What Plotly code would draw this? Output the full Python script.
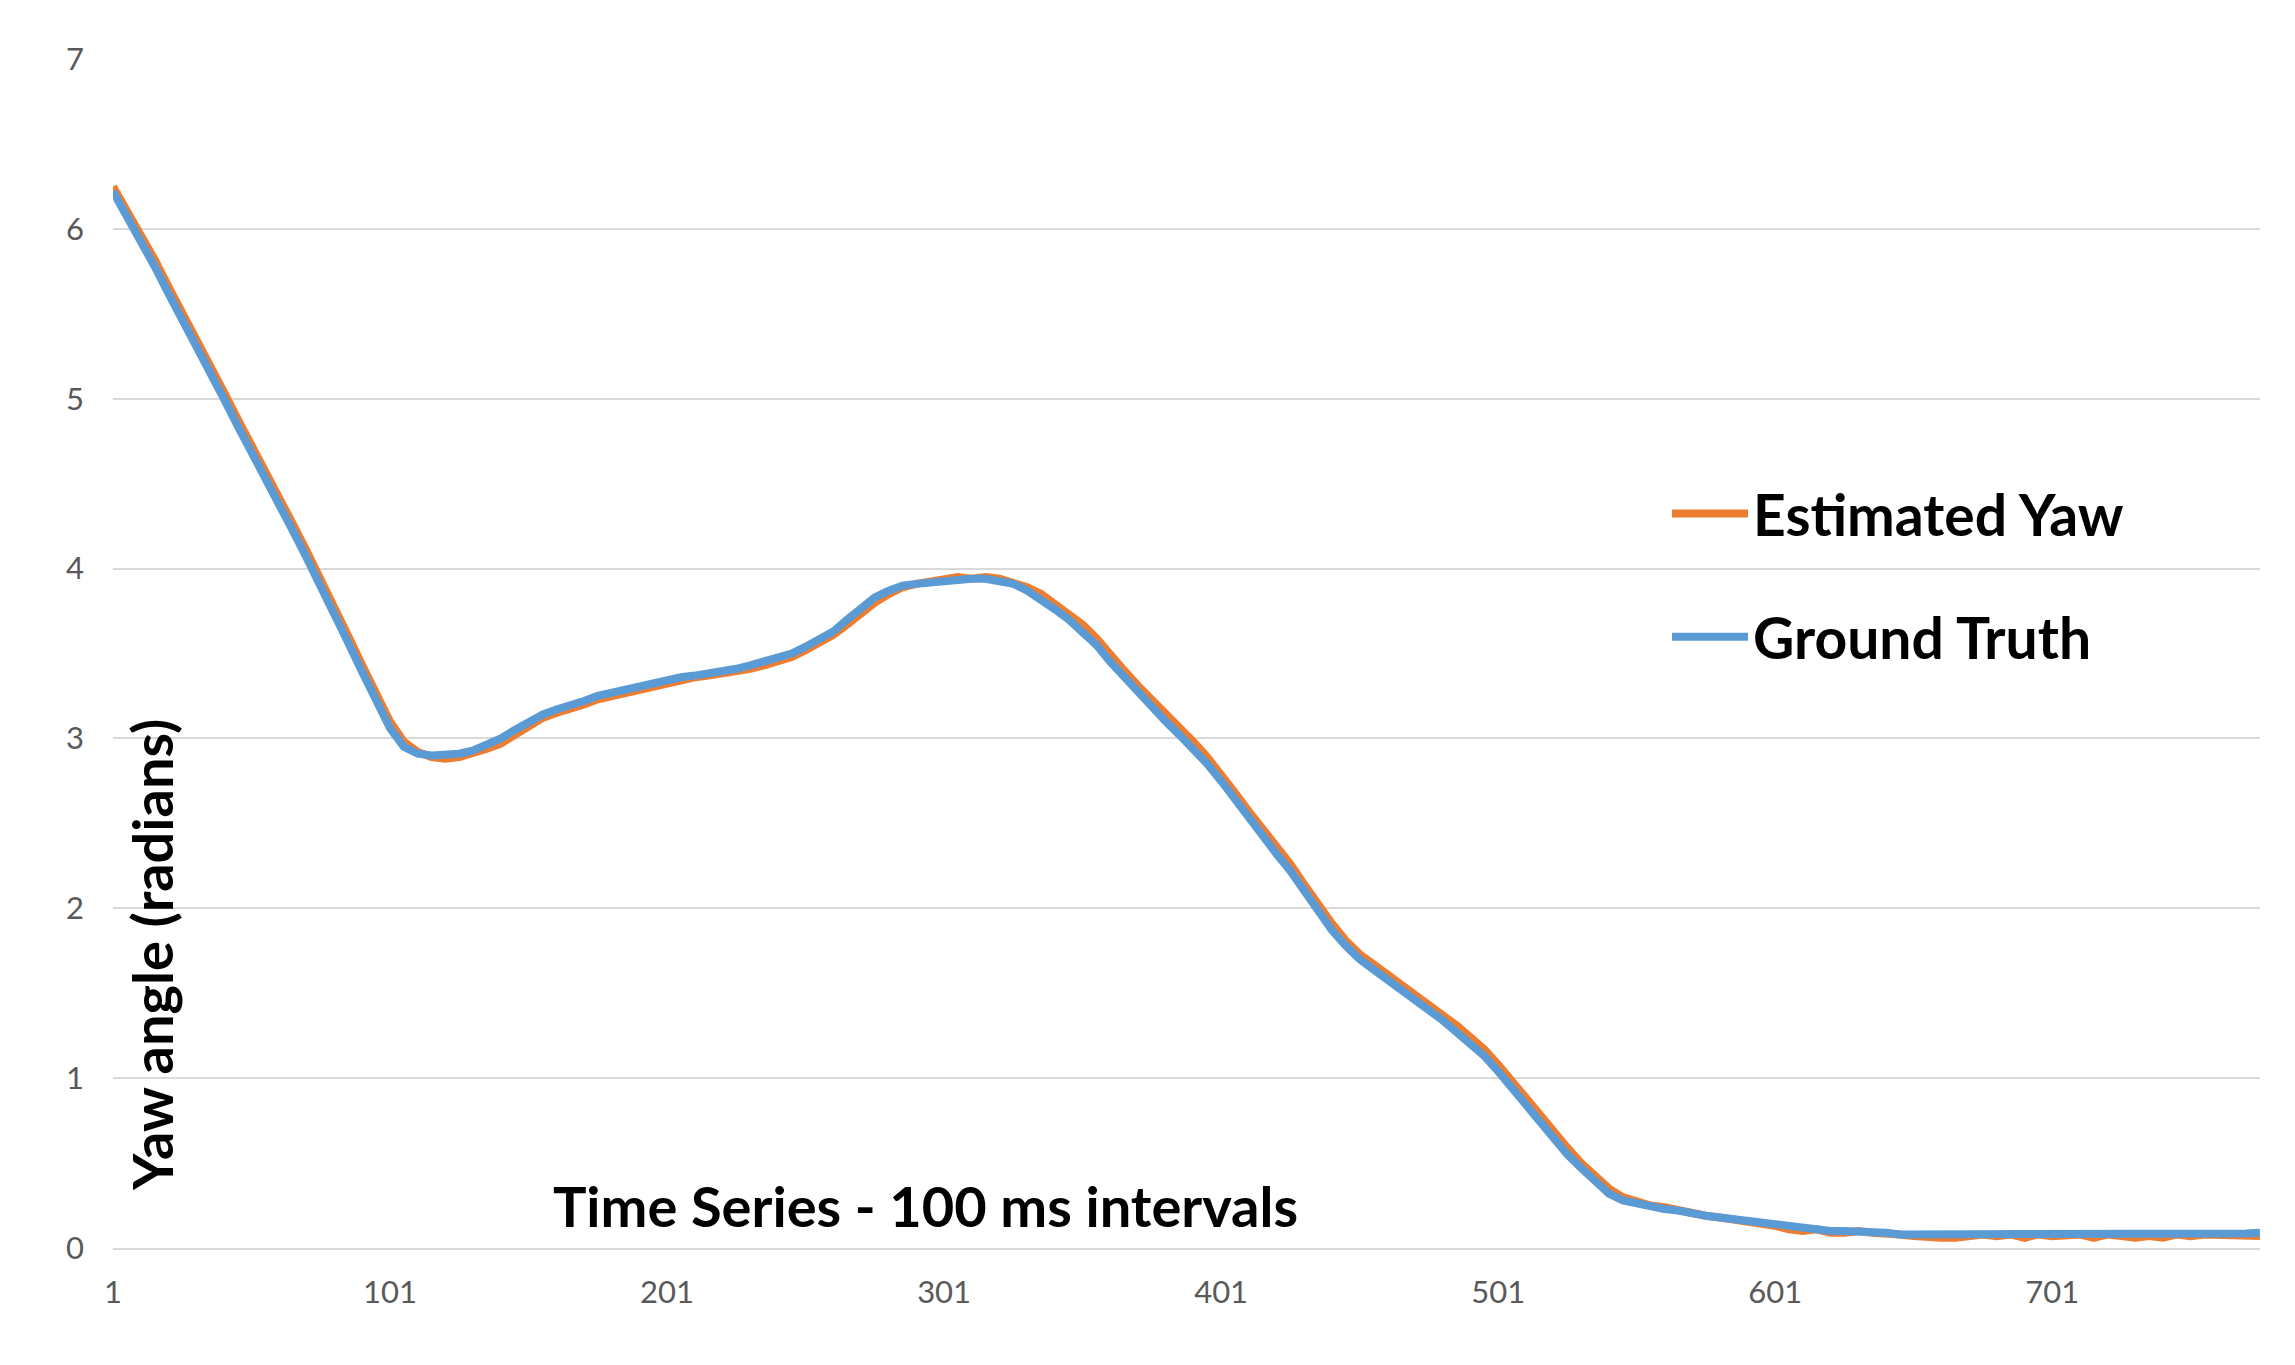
import plotly.graph_objects as go

# Sample index (category) positions: every 5th sample of 776
time_index = list(range(1, 777, 5))

ground_truth = [
    6.22, 6.08, 5.94, 5.78, 5.62, 5.47, 5.31, 5.16, 5.00, 4.84,
    4.69, 4.53, 4.38, 4.22, 4.06, 3.90, 3.73, 3.56, 3.39, 3.22,
    3.06, 2.95, 2.91, 2.90, 2.90, 2.91, 2.93, 2.96, 3.00, 3.05,
    3.10, 3.14, 3.17, 3.19, 3.22, 3.25, 3.27, 3.29, 3.31, 3.33,
    3.35, 3.36, 3.37, 3.38, 3.39, 3.41, 3.43, 3.45, 3.47, 3.50,
    3.54, 3.58, 3.63, 3.70, 3.77, 3.83, 3.87, 3.90, 3.91, 3.92,
    3.93, 3.94, 3.94, 3.94, 3.93, 3.91, 3.87, 3.82, 3.76, 3.70,
    3.63, 3.55, 3.45, 3.36, 3.27, 3.19, 3.10, 3.02, 2.94, 2.85,
    2.75, 2.64, 2.53, 2.43, 2.32, 2.22, 2.10, 1.98, 1.87, 1.78,
    1.70, 1.64, 1.58, 1.53, 1.47, 1.41, 1.34, 1.27, 1.20, 1.13,
    1.04, 0.94, 0.84, 0.74, 0.64, 0.55, 0.47, 0.39, 0.32, 0.28,
    0.26, 0.25, 0.23, 0.22, 0.20, 0.19, 0.18, 0.17, 0.16, 0.15,
    0.13, 0.12, 0.11, 0.11, 0.10, 0.10, 0.10, 0.10, 0.09, 0.08,
    0.08, 0.075, 0.075, 0.075, 0.075, 0.075, 0.075, 0.075, 0.075, 0.075,
    0.075, 0.075, 0.075, 0.075, 0.075, 0.075, 0.075, 0.075, 0.075, 0.075,
    0.075, 0.075, 0.075, 0.08, 0.085, 0.09,
]

estimated_yaw = [
    6.25, 6.11, 5.97, 5.82, 5.66, 5.51, 5.35, 5.20, 5.04, 4.88,
    4.73, 4.57, 4.42, 4.26, 4.10, 3.94, 3.77, 3.60, 3.43, 3.27,
    3.10, 2.98, 2.92, 2.89, 2.88, 2.89, 2.91, 2.94, 2.97, 3.02,
    3.08, 3.12, 3.15, 3.17, 3.20, 3.23, 3.25, 3.27, 3.29, 3.31,
    3.33, 3.35, 3.36, 3.37, 3.38, 3.39, 3.41, 3.43, 3.45, 3.48,
    3.52, 3.56, 3.61, 3.67, 3.74, 3.80, 3.85, 3.89, 3.91, 3.92,
    3.94, 3.95, 3.94, 3.95, 3.94, 3.92, 3.89, 3.85, 3.79, 3.73,
    3.67, 3.59, 3.49, 3.40, 3.31, 3.23, 3.14, 3.06, 2.98, 2.89,
    2.79, 2.68, 2.57, 2.47, 2.36, 2.26, 2.14, 2.02, 1.91, 1.81,
    1.73, 1.67, 1.61, 1.56, 1.50, 1.44, 1.37, 1.31, 1.24, 1.17,
    1.08, 0.98, 0.88, 0.78, 0.68, 0.59, 0.50, 0.42, 0.35, 0.30,
    0.27, 0.25, 0.24, 0.22, 0.21, 0.19, 0.18, 0.17, 0.16, 0.14,
    0.13, 0.11, 0.10, 0.11, 0.09, 0.09, 0.10, 0.09, 0.09, 0.08,
    0.07, 0.06, 0.06, 0.06, 0.07, 0.08, 0.07, 0.08, 0.06, 0.08,
    0.07, 0.08, 0.08, 0.06, 0.08, 0.07, 0.06, 0.07, 0.06, 0.08,
    0.07, 0.08, 0.08, 0.07, 0.08, 0.07,
]

x_tick_vals = [1, 101, 201, 301, 401, 501, 601, 701]
x_tick_text = ["1", "101", "201", "301", "401", "501", "601", "701"]
y_tick_vals = [0, 1, 2, 3, 4, 5, 6, 7]

series_names = ["Estimated Yaw", "Ground Truth"]
series_colors = ["#ED7D31", "#5B9BD5"]

assert len(time_index) == len(ground_truth) == len(estimated_yaw)

W, H = 2295, 1365
OFF = 8  # page body margin offset
# target plot area in screen pixels
PL, PR, PT, PB = 113, 2260, 59, 1248
ML = PL - OFF
MT = PT - OFF
MR = W - (PR - OFF)
MB = H - (PB - OFF)
plot_w = PR - PL
plot_h = PB - PT

def sx(px):
    return (px - PL) / plot_w

def sy(py):
    return (PB - py) / plot_h

fig = go.Figure()
fig.add_trace(go.Scatter(x=time_index, y=estimated_yaw, mode="lines",
                         name=series_names[0], legendgroup="a",
                         line=dict(color=series_colors[0], width=8)))
fig.add_trace(go.Scatter(x=time_index, y=ground_truth, mode="lines",
                         name=series_names[1], legendgroup="b",
                         line=dict(color=series_colors[1], width=8)))

bold_font = dict(family="Lato", size=56, color="#000000")

fig.add_annotation(text="<b>Yaw angle (radians)</b>", textangle=-90,
                   xref="paper", yref="paper",
                   x=sx(151), y=sy(955),
                   xanchor="center", yanchor="middle", showarrow=False,
                   font=bold_font)
fig.add_annotation(text="<b>Time Series - 100 ms intervals</b>",
                   xref="paper", yref="paper",
                   x=sx(925), y=sy(1205),
                   xanchor="center", yanchor="middle", showarrow=False,
                   font=bold_font)

fig.update_layout(
    width=W, height=H,
    margin=dict(l=ML, r=MR, t=MT, b=MB),
    paper_bgcolor="white", plot_bgcolor="white",
    font=dict(family="Lato", size=31, color="#595959"),
    showlegend=True,
    legend=dict(x=sx(1667), y=sy(470),
                xanchor="left", yanchor="top",
                font=dict(family="Lato", size=57, color="#000000", weight="bold"),
                bgcolor="rgba(0,0,0,0)", tracegroupgap=46,
                itemwidth=76, traceorder="grouped"),
    xaxis=dict(range=[1, 776], tickmode="array", tickvals=x_tick_vals,
               ticktext=x_tick_text, showgrid=False, zeroline=False,
               showline=True, linecolor="#D9D9D9", linewidth=2,
               ticks="", ticklabelstandoff=16,
               tickfont=dict(family="Lato", size=31, color="#595959")),
    yaxis=dict(range=[0, 7], tickmode="array", tickvals=y_tick_vals,
               showgrid=True, gridcolor="#D9D9D9", gridwidth=2,
               zeroline=False, showline=False, ticks="",
               ticklabelstandoff=28,
               tickfont=dict(family="Lato", size=31, color="#595959")),
)

fig.write_html("out.html")
